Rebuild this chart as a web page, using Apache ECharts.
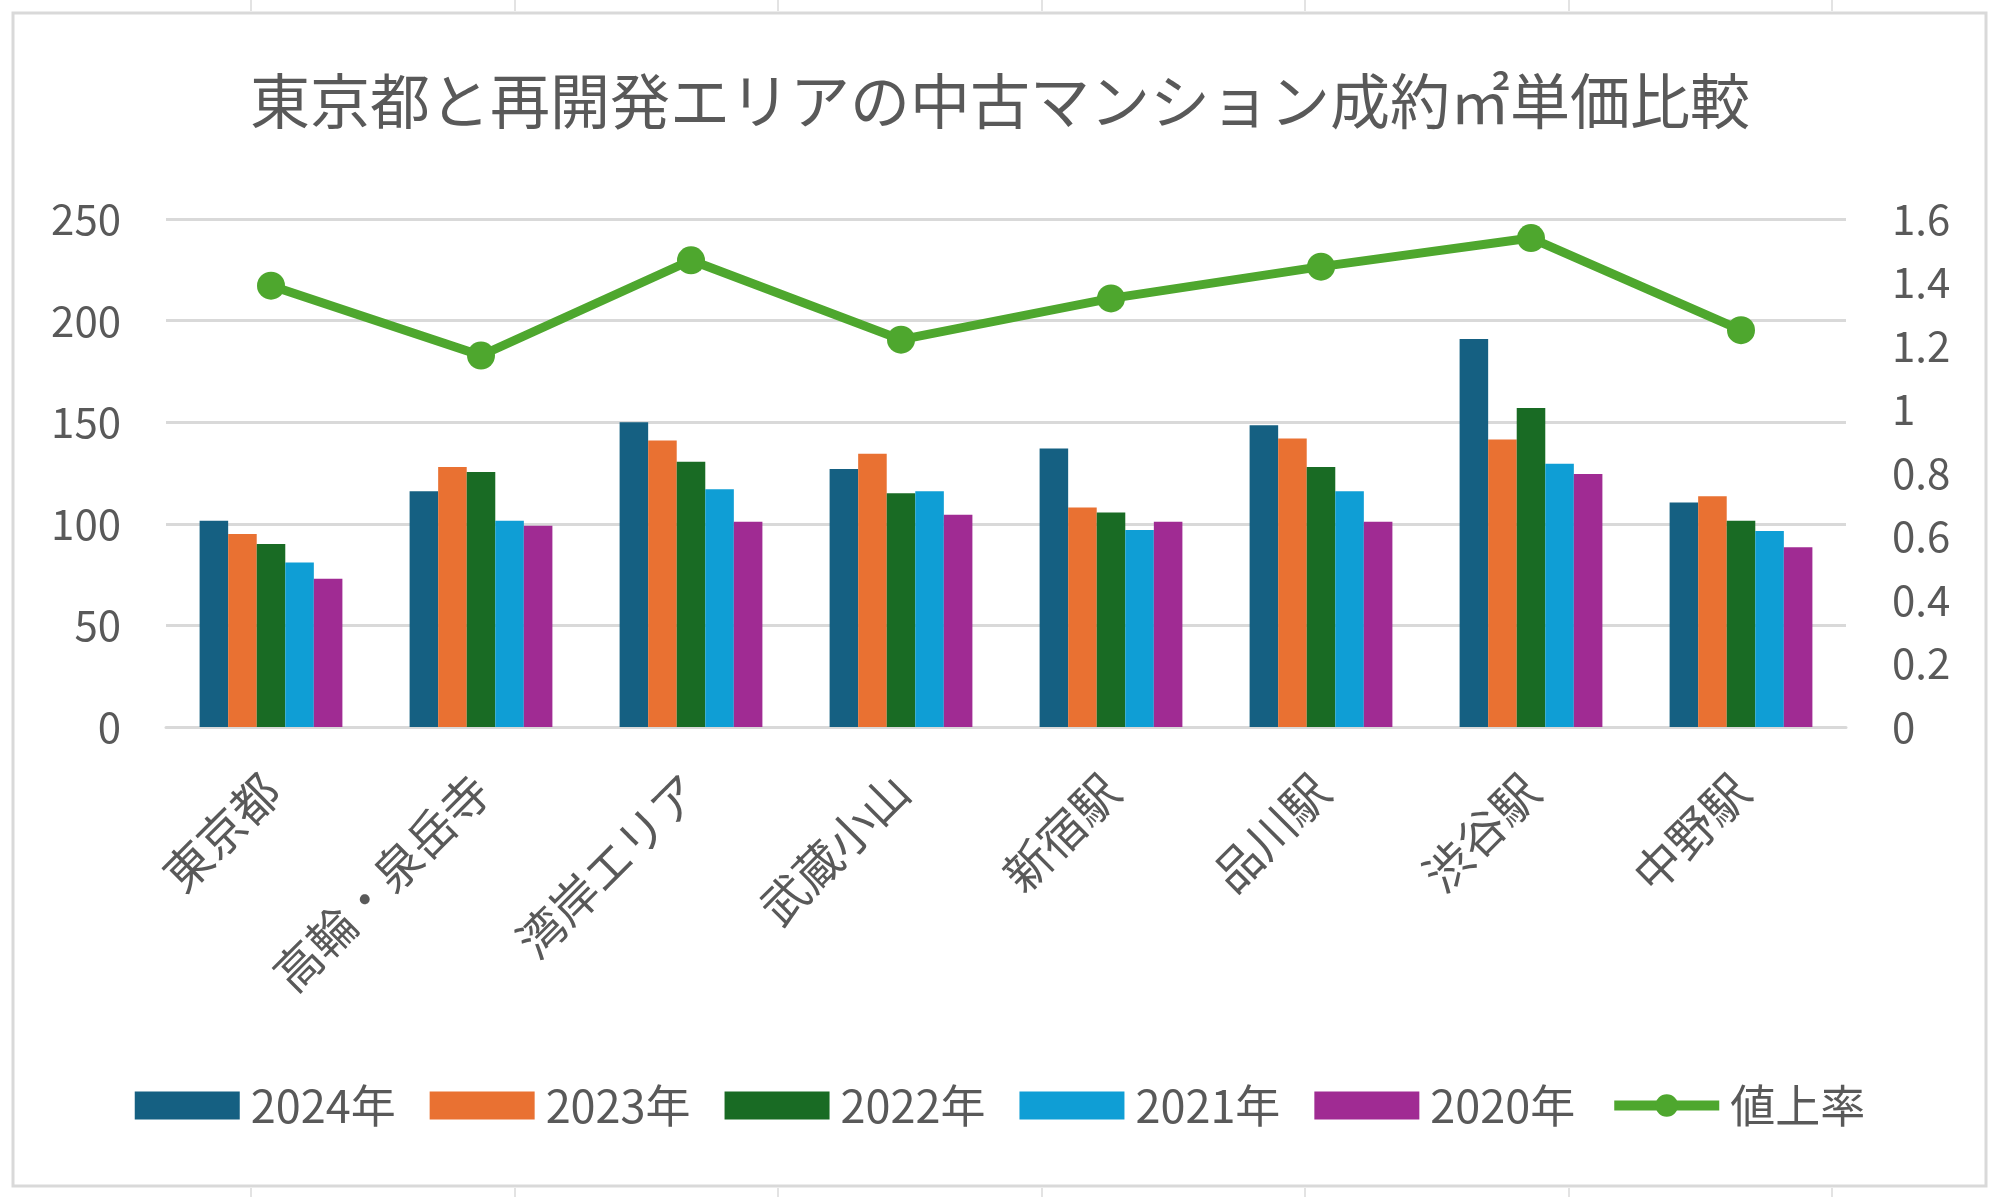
<!DOCTYPE html>
<html><head><meta charset="utf-8">
<script src="https://cdn.jsdelivr.net/npm/echarts@6/dist/echarts.min.js"></script>
<style>html,body{margin:0;padding:0;background:#fff}#c{width:2000px;height:1197px}</style>
</head><body><div id="c"></div>
<script>
const categories = ['東京都','高輪・泉岳寺','湾岸エリア','武蔵小山','新宿駅','品川駅','渋谷駅','中野駅'];
const y2024 = [101.5, 116, 150, 127, 137, 148.5, 191, 110.5];
const y2023 = [95, 128, 141, 134.5, 108, 142, 141.5, 113.5];
const y2022 = [90, 125.5, 130.5, 115, 105.5, 128, 157, 101.5];
const y2021 = [81, 101.5, 117, 116, 97, 116, 129.5, 96.5];
const y2020 = [73, 99, 101, 104.5, 101, 101, 124.5, 88.5];
const rate = [1.39, 1.17, 1.47, 1.22, 1.35, 1.45, 1.54, 1.25];
const seriesNames = ['2024年','2023年','2022年','2021年','2020年','値上率'];
const colors = ['#156082','#E97132','#196B24','#0F9ED5','#A02B93','#4EA72E'];
const FONT = '"Noto Sans CJK JP","Noto Sans",sans-serif';
const TXT = '#595959';

const chart = echarts.init(document.getElementById('c'));
const barData = [y2024,y2023,y2022,y2021,y2020];
const series = barData.map((d,i)=>({
  name: seriesNames[i], type:'bar', data:d, yAxisIndex:0,
  barGap:'0%', barCategoryGap:'32%', itemStyle:{color:colors[i]}
}));
series.push({
  name: seriesNames[5], type:'line', data:rate, yAxisIndex:1,
  symbol:'circle', symbolSize:28, lineStyle:{width:9,color:colors[5]},
  itemStyle:{color:colors[5]}, z:5
});
const cellX = [251,515,778,1042,1305,1569,1832];
const graphics = [{type:'rect', shape:{x:13,y:13,width:1973,height:1173}, style:{fill:'none', stroke:'#d9d9d9', lineWidth:3}, z:-1}];
cellX.forEach(x=>{
  graphics.push({type:'line', shape:{x1:x,y1:0,x2:x,y2:11}, style:{stroke:'#e3e3e3',lineWidth:2}});
  graphics.push({type:'line', shape:{x1:x,y1:1188,x2:x,y2:1197}, style:{stroke:'#e3e3e3',lineWidth:2}});
});
const legendData = seriesNames.map((n,i)=> i<5 ? {name:n, icon:'rect'} : {name:n, lineStyle:{width:10}});
chart.setOption({
  animation:false,
  color:colors,
  textStyle:{fontFamily:FONT},
  title:{text:'東京都と再開発エリアの中古マンション成約㎡単価比較', left:'center', top:66,
    textStyle:{fontFamily:FONT, fontSize:60, fontWeight:'normal', color:TXT}},
  grid:{left:166, right:154, top:219, bottom:470, containLabel:false},
  legend:{bottom:64, left:'center', itemWidth:105, itemHeight:28, itemGap:34,
    textStyle:{fontFamily:FONT, fontSize:45, color:TXT, padding:[0,0,0,6]}, data:legendData},
  xAxis:{type:'category', data:categories,
    axisLine:{show:true, lineStyle:{color:'#d9d9d9', width:3}}, axisTick:{show:false},
    axisLabel:{rotate:45, fontSize:47, color:TXT, fontFamily:FONT, margin:56, interval:0}},
  yAxis:[
    {type:'value', min:0, max:250, interval:50,
     axisLine:{show:false}, axisTick:{show:false},
     splitLine:{lineStyle:{color:'#d9d9d9', width:3}},
     axisLabel:{fontSize:42, color:TXT, fontFamily:FONT, margin:45}},
    {type:'value', min:0, max:1.6, interval:0.2,
     axisLine:{show:false}, axisTick:{show:false}, splitLine:{show:false},
     axisLabel:{fontSize:42, color:TXT, fontFamily:FONT, margin:46,
       formatter:v=>String(Math.round(v*10)/10)}}
  ],
  graphic:graphics,
  series:series
});
</script></body></html>
